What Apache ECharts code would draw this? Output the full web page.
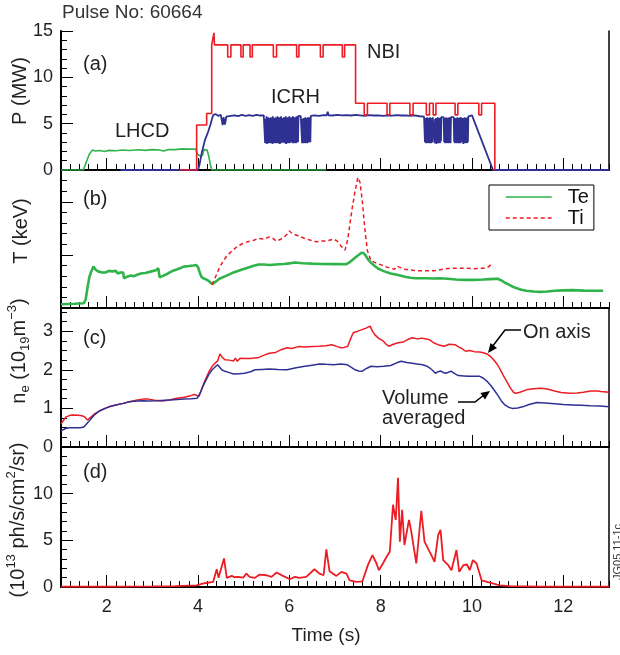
<!DOCTYPE html>
<html>
<head>
<meta charset="utf-8">
<script src="https://cdn.jsdelivr.net/npm/echarts@6/dist/echarts.min.js"></script>
<style>
html, body { margin: 0; padding: 0; background: #fff; }
#chart { width: 620px; height: 655px; }
</style>
</head>
<body>
<div id="chart"></div>
<script>
// Tick labels
const timeTicks = [2, 4, 6, 8, 10, 12];
const powerTicks = [0, 5, 10, 15];
const tempTicks = [0, 5, 10];
const densityTicks = [0, 1, 2, 3];
const emissionTicks = [0, 5, 10];

// (a) heating power P (MW) against time (s)
const lhcd = [[1.0,0],[1.49,0],[1.55,0.8],[1.62,1.7],[1.69,2.15],[1.75,2.05],[1.85,2.1],[1.95,2.0],[2.05,2.12],[2.2,2.08],[2.35,2.15],[2.5,2.1],[2.7,2.18],[2.85,2.12],[3.0,2.2],[3.15,2.15],[3.25,2.05],[3.35,2.22],[3.5,2.2],[3.65,2.28],[3.8,2.25],[3.95,2.27],[3.99,1.7],[4.05,1.5],[4.1,1.6],[4.13,2.2],[4.2,2.15],[4.23,1.6],[4.27,0.6],[4.3,0],[6.8,0]];

const icrh = [[2.3,0],[4.0,0],[4.03,0.5],[4.08,1.8],[4.15,3.2],[4.22,4.1],[4.27,4.85],[4.33,5.9],[4.38,6.05],[4.44,5.85],[4.5,5.95],[4.52,5.8],[4.54,4.85],[4.56,5.7],[4.59,4.9],[4.62,5.75],[4.66,5.95],[4.72,5.85],[4.8,5.9],[4.88,5.82],[4.96,5.95],[5.04,5.85],[5.12,5.92],[5.2,5.85],[5.28,5.95],[5.36,5.88],[5.44,5.9],
  [5.46,5.7],[5.47,2.9],[5.48,5.5],[5.49,3.0],[5.5,5.8],[5.51,2.8],[5.52,5.4],[5.53,3.1],[5.54,5.7],[5.55,2.9],[5.56,5.6],[5.57,3.0],[5.58,5.3],[5.59,2.9],[5.6,5.7],[5.61,3.2],[5.62,5.5],[5.63,2.8],[5.64,5.8],[5.65,3.0],[5.66,5.6],[5.67,2.9],[5.68,5.4],[5.69,3.1],[5.7,5.7],[5.71,2.9],[5.72,5.5],[5.73,3.0],[5.74,5.8],[5.75,2.9],[5.76,5.6],[5.77,3.1],[5.78,5.7],[5.79,2.8],[5.8,5.5],[5.81,3.0],[5.82,5.8],[5.83,2.9],[5.84,5.6],[5.85,3.0],[5.86,5.4],[5.87,3.1],[5.88,5.7],[5.89,2.9],[5.9,5.5],[5.91,3.0],[5.92,5.8],[5.93,2.8],[5.94,5.6],[5.95,3.0],[5.96,5.7],[5.97,2.9],[5.98,5.5],[5.99,3.1],[6.0,5.8],[6.01,2.9],[6.02,5.6],[6.03,3.0],[6.04,5.7],[6.05,3.2],[6.06,5.5],[6.07,2.9],[6.08,5.8],[6.09,3.0],[6.1,5.6],[6.11,2.9],[6.12,5.7],[6.13,3.1],[6.14,5.5],[6.15,2.9],[6.16,5.8],[6.17,3.0],[6.18,5.7],[6.19,3.0],[6.2,5.85],[6.25,5.8],
  [6.27,5.7],[6.28,2.9],[6.29,5.5],[6.3,3.0],[6.31,5.6],[6.32,2.9],[6.33,5.4],[6.34,3.1],[6.35,5.7],[6.36,2.9],[6.37,5.5],[6.38,3.0],[6.39,5.6],[6.4,2.9],[6.41,5.7],[6.42,3.1],[6.43,5.5],[6.44,3.0],[6.45,5.7],[6.46,3.0],[6.47,5.85],
  [6.55,5.9],[6.65,5.85],[6.75,5.92],[6.82,5.9],[6.84,6.3],[6.86,5.9],[6.95,5.88],[7.05,5.95],[7.15,5.9],[7.25,5.93],[7.35,5.88],[7.45,5.95],[7.55,5.9],[7.65,5.85],[7.75,5.92],[7.85,5.88],[7.95,5.9],[8.05,5.85],[8.15,5.9],[8.25,5.87],[8.35,5.93],[8.45,5.88],[8.55,5.9],[8.65,5.85],[8.75,5.9],[8.85,5.8],[8.95,5.75],
  [8.96,5.7],[8.97,3.0],[8.98,5.6],[8.99,2.9],[9.0,5.5],[9.01,3.1],[9.02,5.7],[9.03,2.9],[9.04,5.4],[9.05,3.0],[9.06,5.6],[9.07,2.9],[9.08,5.7],[9.09,3.1],[9.1,5.5],[9.11,2.9],[9.12,5.6],[9.13,3.0],[9.14,5.7],[9.16,5.65],
  [9.17,5.6],[9.18,2.9],[9.19,5.5],[9.2,3.0],[9.21,5.6],[9.22,2.8],[9.23,5.4],[9.24,3.1],[9.25,5.7],[9.26,2.9],[9.27,5.5],[9.28,3.0],[9.29,5.6],[9.3,2.9],[9.31,5.7],[9.32,3.1],[9.33,5.7],[9.36,5.7],
  [9.38,5.7],[9.39,3.0],[9.4,5.6],[9.41,2.9],[9.42,5.5],[9.43,3.0],[9.44,5.7],[9.45,2.9],[9.46,5.6],[9.47,3.1],[9.48,5.5],[9.49,2.9],[9.5,5.7],[9.51,3.0],[9.52,5.6],[9.53,2.9],[9.54,5.7],[9.57,5.7],
  [9.6,5.7],[9.61,3.0],[9.62,5.5],[9.63,2.9],[9.64,5.6],[9.65,3.1],[9.66,5.4],[9.67,2.9],[9.68,5.7],[9.69,3.0],[9.7,5.5],[9.71,2.9],[9.72,5.6],[9.73,3.1],[9.74,5.7],[9.75,2.9],[9.76,5.7],
  [9.78,5.7],[9.79,3.0],[9.8,5.6],[9.81,2.8],[9.82,5.5],[9.83,3.0],[9.84,5.7],[9.85,2.9],[9.86,5.5],[9.87,3.1],[9.88,5.6],[9.89,2.9],[9.9,5.7],[9.91,3.0],[9.92,5.8],
  [10.0,5.9],[10.46,0],[13.0,0]];

const nbi = [[3.6,0],[3.97,0],[3.97,4.85],[4.19,4.85],[4.19,6.1],[4.3,6.1],[4.3,13.5],[4.34,13.5],[4.35,14.8],[4.36,13.5],
  [4.65,13.5],[4.65,12.2],[4.72,12.2],[4.72,13.5],
  [4.94,13.5],[4.94,12.2],[4.99,12.2],[4.99,13.5],
  [5.14,13.5],[5.14,12.2],[5.19,12.2],[5.19,13.5],
  [5.65,13.5],[5.65,12.2],[5.72,12.2],[5.72,13.5],
  [6.16,13.5],[6.16,12.2],[6.21,12.2],[6.21,13.5],
  [6.68,13.5],[6.68,12.2],[6.74,12.2],[6.74,13.5],
  [7.16,13.5],[7.16,12.2],[7.21,12.2],[7.21,13.5],
  [7.45,13.5],[7.45,7.2],
  [7.64,7.2],[7.64,5.95],[7.71,5.95],[7.71,7.2],
  [8.14,7.2],[8.14,5.95],[8.2,5.95],[8.2,7.2],
  [8.64,7.2],[8.64,5.95],[8.71,5.95],[8.71,7.2],
  [9.0,7.2],[9.0,5.95],[9.07,5.95],[9.07,7.2],
  [9.15,7.2],[9.15,5.95],[9.21,5.95],[9.21,7.2],
  [9.63,7.2],[9.63,5.95],[9.69,5.95],[9.69,7.2],
  [10.15,7.2],[10.15,5.95],[10.21,5.95],[10.21,7.2],
  [10.5,7.2],[10.5,0]];

// (b) electron and ion temperature (keV)
const te = [[1.0,0.35],[1.3,0.4],[1.5,0.45],[1.54,0.8],[1.58,1.9],[1.62,2.9],[1.66,3.4],[1.71,3.9],[1.76,3.6],[1.81,3.45],[1.9,3.35],[1.97,3.35],[2.05,3.5],[2.13,3.45],[2.2,3.5],[2.24,3.25],[2.3,3.35],[2.36,3.35],[2.38,2.8],[2.45,2.95],[2.52,3.05],[2.6,3.0],[2.68,3.15],[2.75,3.25],[2.85,3.3],[2.98,3.45],[3.08,3.55],[3.13,3.75],[3.16,2.9],[3.22,3.0],[3.3,3.15],[3.38,3.35],[3.45,3.5],[3.55,3.65],[3.69,3.9],[3.8,3.95],[3.9,4.0],[3.96,4.05],[4.0,3.85],[4.02,3.6],[4.05,3.2],[4.08,2.9],[4.14,2.75],[4.2,2.65],[4.26,2.45],[4.31,2.25],[4.38,2.45],[4.47,2.75],[4.6,3.0],[4.78,3.35],[4.95,3.6],[5.09,3.8],[5.2,3.95],[5.33,4.1],[5.45,4.1],[5.56,4.05],[5.7,4.1],[5.88,4.15],[6.0,4.2],[6.11,4.28],[6.3,4.22],[6.5,4.18],[6.7,4.15],[6.97,4.13],[7.1,4.15],[7.24,4.12],[7.32,4.3],[7.4,4.6],[7.5,4.95],[7.58,5.2],[7.63,5.15],[7.67,4.95],[7.72,4.6],[7.79,4.25],[7.87,3.95],[7.95,3.7],[8.08,3.45],[8.22,3.25],[8.38,3.1],[8.53,2.95],[8.65,2.85],[8.77,2.8],[9.0,2.8],[9.16,2.78],[9.3,2.8],[9.47,2.75],[9.65,2.68],[9.86,2.65],[10.05,2.65],[10.25,2.68],[10.4,2.72],[10.56,2.75],[10.64,2.6],[10.72,2.4],[10.85,2.1],[10.95,1.9],[11.08,1.72],[11.19,1.63],[11.35,1.55],[11.5,1.52],[11.65,1.55],[11.81,1.62],[12.0,1.66],[12.2,1.68],[12.45,1.64],[12.67,1.63],[12.87,1.62]];

const ti = [[4.31,2.2],[4.38,2.9],[4.47,3.8],[4.55,4.4],[4.63,4.9],[4.75,5.4],[4.86,5.8],[4.97,6.05],[5.09,6.25],[5.2,6.35],[5.33,6.55],[5.45,6.5],[5.56,6.7],[5.64,6.55],[5.72,6.3],[5.8,6.45],[5.88,6.65],[5.95,6.95],[6.0,7.25],[6.07,7.0],[6.19,6.8],[6.34,6.55],[6.45,6.4],[6.58,6.25],[6.7,6.3],[6.81,6.3],[6.97,6.5],[7.05,6.3],[7.13,5.85],[7.22,5.45],[7.28,6.5],[7.32,7.7],[7.38,9.5],[7.44,11.0],[7.5,12.3],[7.55,11.8],[7.6,10.0],[7.63,8.5],[7.67,6.8],[7.71,5.4],[7.79,4.45],[7.87,4.3],[7.95,4.15],[8.05,4.0],[8.14,3.85],[8.22,3.75],[8.3,3.65],[8.36,3.95],[8.41,3.85],[8.53,3.65],[8.7,3.55],[8.84,3.5],[9.0,3.5],[9.16,3.5],[9.3,3.6],[9.47,3.72],[9.65,3.75],[9.86,3.75],[10.05,3.7],[10.25,3.75],[10.35,3.85],[10.42,4.1]];

// (c) electron density (10^19 m^-3)
const neAxis = [[1.0,0.6],[1.06,0.7],[1.11,0.78],[1.2,0.82],[1.27,0.83],[1.38,0.82],[1.46,0.81],[1.52,0.78],[1.58,0.7],[1.62,0.72],[1.66,0.78],[1.75,0.87],[1.89,0.96],[2.0,1.02],[2.13,1.07],[2.25,1.1],[2.36,1.13],[2.5,1.17],[2.67,1.22],[2.8,1.24],[2.91,1.24],[3.05,1.21],[3.22,1.19],[3.38,1.22],[3.53,1.26],[3.7,1.29],[3.84,1.33],[3.92,1.36],[3.96,1.39],[4.02,1.31],[4.08,1.5],[4.16,1.74],[4.24,1.95],[4.31,2.09],[4.38,2.18],[4.43,2.23],[4.48,2.41],[4.53,2.32],[4.59,2.26],[4.68,2.25],[4.78,2.23],[4.82,2.3],[4.86,2.22],[4.92,2.3],[5.02,2.29],[5.15,2.29],[5.33,2.32],[5.45,2.38],[5.56,2.43],[5.7,2.45],[5.82,2.52],[5.95,2.57],[6.05,2.55],[6.2,2.6],[6.34,2.59],[6.5,2.6],[6.66,2.61],[6.8,2.62],[6.93,2.65],[7.05,2.6],[7.13,2.57],[7.2,2.58],[7.28,2.61],[7.34,2.8],[7.4,2.96],[7.5,3.0],[7.59,3.04],[7.68,3.08],[7.77,3.13],[7.82,3.0],[7.87,2.91],[7.95,2.82],[8.06,2.74],[8.12,2.66],[8.18,2.61],[8.28,2.66],[8.38,2.7],[8.5,2.72],[8.6,2.79],[8.69,2.83],[8.8,2.8],[8.9,2.82],[9.0,2.8],[9.08,2.77],[9.16,2.7],[9.28,2.64],[9.39,2.61],[9.5,2.66],[9.63,2.65],[9.72,2.58],[9.78,2.55],[9.86,2.48],[9.95,2.5],[10.05,2.47],[10.17,2.46],[10.25,2.44],[10.33,2.41],[10.42,2.33],[10.5,2.22],[10.56,2.13],[10.64,1.96],[10.7,1.82],[10.76,1.7],[10.84,1.53],[10.9,1.43],[10.95,1.39],[11.05,1.42],[11.19,1.48],[11.35,1.51],[11.5,1.52],[11.65,1.5],[11.81,1.45],[11.95,1.41],[12.13,1.39],[12.3,1.4],[12.44,1.42],[12.6,1.45],[12.75,1.45],[12.82,1.44],[13.0,1.42]];

const neVolume = [[1.0,0.42],[1.1,0.48],[1.19,0.5],[1.3,0.5],[1.42,0.5],[1.5,0.52],[1.54,0.57],[1.62,0.68],[1.73,0.83],[1.85,0.94],[2.05,1.04],[2.2,1.09],[2.36,1.13],[2.5,1.17],[2.67,1.19],[2.8,1.2],[2.91,1.19],[3.1,1.2],[3.38,1.22],[3.55,1.23],[3.69,1.24],[3.85,1.25],[3.98,1.26],[4.05,1.4],[4.1,1.55],[4.16,1.7],[4.24,1.88],[4.31,2.0],[4.38,2.08],[4.43,2.13],[4.47,2.08],[4.52,2.0],[4.59,1.96],[4.7,1.92],[4.78,1.89],[4.9,1.9],[5.02,1.91],[5.15,1.95],[5.25,2.0],[5.4,2.01],[5.56,2.02],[5.75,2.01],[5.95,2.0],[6.15,2.05],[6.34,2.09],[6.5,2.12],[6.66,2.15],[6.8,2.14],[6.97,2.13],[7.13,2.15],[7.27,2.13],[7.36,2.06],[7.44,2.0],[7.52,1.97],[7.59,1.96],[7.7,2.04],[7.79,2.09],[7.92,2.08],[8.06,2.09],[8.22,2.11],[8.35,2.18],[8.45,2.22],[8.57,2.19],[8.69,2.17],[8.8,2.15],[8.92,2.13],[9.0,2.1],[9.08,2.04],[9.14,1.98],[9.2,1.91],[9.26,1.95],[9.31,1.97],[9.37,1.93],[9.43,1.91],[9.49,1.94],[9.55,1.96],[9.62,1.9],[9.7,1.85],[9.82,1.84],[9.94,1.83],[10.05,1.83],[10.17,1.83],[10.25,1.78],[10.33,1.7],[10.42,1.58],[10.5,1.45],[10.56,1.35],[10.64,1.2],[10.72,1.09],[10.8,1.03],[10.88,1.0],[11.0,1.01],[11.11,1.04],[11.25,1.1],[11.42,1.15],[11.6,1.14],[11.81,1.12],[12.0,1.1],[12.2,1.09],[12.4,1.08],[12.59,1.07],[12.8,1.06],[13.0,1.04]];

// (d) emission (10^13 ph/s/cm^2/sr)
const emission = [[1.0,0.05],[2.0,0.05],[3.0,0.06],[3.5,0.1],[3.97,0.18],[4.1,0.35],[4.18,0.43],[4.33,0.54],[4.41,1.9],[4.45,1.0],[4.48,0.9],[4.57,3.06],[4.63,0.97],[4.74,1.19],[4.8,1.05],[4.88,1.08],[4.99,1.0],[5.06,1.44],[5.13,1.08],[5.24,0.97],[5.35,1.33],[5.5,1.26],[5.61,1.08],[5.72,1.55],[5.86,1.19],[6.01,0.83],[6.12,1.08],[6.22,0.97],[6.37,1.08],[6.55,1.9],[6.66,1.44],[6.75,1.26],[6.81,4.03],[6.88,1.69],[7.03,1.19],[7.14,1.62],[7.25,1.44],[7.32,0.72],[7.47,0.54],[7.6,0.61],[7.72,2.34],[7.82,3.42],[7.91,2.52],[7.96,1.8],[8.05,2.52],[8.13,3.24],[8.2,3.78],[8.27,8.81],[8.33,7.19],[8.38,11.69],[8.42,4.86],[8.47,8.27],[8.52,4.5],[8.62,7.19],[8.67,5.94],[8.78,2.52],[8.89,8.17],[8.96,4.86],[9.11,3.42],[9.18,2.7],[9.26,5.58],[9.31,6.12],[9.37,2.88],[9.48,2.34],[9.55,1.8],[9.66,3.96],[9.72,1.62],[9.81,2.34],[9.89,2.41],[9.95,1.8],[10.02,2.88],[10.1,2.52],[10.21,0.72],[10.39,0.47],[10.61,0.18],[10.83,0.1],[11.5,0.05],[13.0,0.05]];

const FONT = '"Liberation Sans", Arial, Helvetica, sans-serif';
const INK = '#231f20';
const RED = '#ec1c24';
const BLUE = '#2e3192';
const GREEN = '#2fb34a';

// Four stacked panels sharing the time axis
const panels = [
  { top: 31,  height: 139, max: 15,  minor: 1,    ticks: powerTicks,    labels: true,  rightLine: true },
  { top: 170, height: 138, max: 13,  minor: 1,    ticks: tempTicks,     labels: false, rightLine: false },
  { top: 308, height: 139, max: 3.6, minor: 0.25, ticks: densityTicks,  labels: true,  rightLine: true },
  { top: 447, height: 140, max: 15,  minor: 1,    ticks: emissionTicks, labels: true,  rightLine: true }
];

const grid = panels.map(p => ({ left: 61, width: 548, top: p.top, height: p.height }));
const xAxis = [];
const yAxis = [];
const tickLine = { color: '#000', width: 1 };

panels.forEach((p, i) => {
  // minor ticks + axis line
  xAxis.push({
    gridIndex: i, type: 'value', position: 'bottom', min: 1, max: 13, interval: 0.2,
    axisLine: { show: true, onZero: false, lineStyle: { color: '#000', width: 2 } },
    axisTick: { show: true, inside: true, length: 6, lineStyle: tickLine },
    axisLabel: { show: false }, splitLine: { show: false }
  });
  // major ticks + labels
  xAxis.push({
    gridIndex: i, type: 'value', position: 'bottom', min: 1, max: 13,
    axisLine: { show: false },
    axisTick: { show: true, inside: true, length: 12, customValues: timeTicks, lineStyle: tickLine },
    axisLabel: { show: i === 3, customValues: timeTicks, fontSize: 18, color: INK, fontFamily: FONT, margin: 11 },
    splitLine: { show: false }
  });
  yAxis.push({
    gridIndex: i, type: 'value', position: 'left', min: 0, max: p.max, interval: p.minor,
    axisLine: { show: true, onZero: false, lineStyle: { color: '#000', width: 2 } },
    axisTick: { show: true, inside: true, length: 6, lineStyle: tickLine },
    axisLabel: { show: false }, splitLine: { show: false }
  });
  yAxis.push({
    gridIndex: i, type: 'value', position: 'left', min: 0, max: p.max,
    axisLine: { show: false },
    axisTick: { show: true, inside: true, length: 12, customValues: p.ticks, lineStyle: tickLine },
    axisLabel: { show: p.labels, customValues: p.ticks, fontSize: 18, color: INK, fontFamily: FONT, margin: 8 },
    splitLine: { show: false }
  });
});
// frame lines: top of panel (a), right side of (a), (c), (d)
xAxis.push({
  gridIndex: 0, type: 'value', position: 'top', min: 1, max: 13,
  axisLine: { show: true, lineStyle: { color: '#000', width: 1.5 } },
  axisTick: { show: false }, axisLabel: { show: false }, splitLine: { show: false }
});
panels.forEach((p, i) => {
  if (!p.rightLine) return;
  yAxis.push({
    gridIndex: i, type: 'value', position: 'right', min: 0, max: p.max,
    axisLine: { show: true, onZero: false, lineStyle: { color: '#000', width: 1.5 } },
    axisTick: { show: false }, axisLabel: { show: false }, splitLine: { show: false }
  });
});

function line(name, data, g, color, width, dash) {
  return {
    type: 'line', name, data, xAxisIndex: 2 * g, yAxisIndex: 2 * g,
    symbol: 'none', showSymbol: false, smooth: false, silent: true,
    lineStyle: { color, width, type: dash || 'solid', cap: 'butt', join: 'bevel' },
    itemStyle: { color }
  };
}

const series = [
  line('LHCD', lhcd, 0, GREEN, 1.6),
  line('ICRH', icrh, 0, BLUE, 1.8),
  line('NBI', nbi, 0, RED, 1.6),
  line('Te', te, 1, GREEN, 2.6),
  line('Ti', ti, 1, RED, 1.5, [4, 3]),
  line('On axis', neAxis, 2, RED, 1.5),
  line('Volume averaged', neVolume, 2, BLUE, 1.5),
  line('Emission', emission, 3, RED, 1.8)
];

function txt(x, y, text, size, extra) {
  return Object.assign({
    type: 'text', x, y, silent: true,
    style: Object.assign({
      text, fontSize: size, fontFamily: FONT, fill: INK,
      align: 'left', textAlign: 'left', verticalAlign: 'middle', textVerticalAlign: 'middle'
    }, extra && extra.style)
  }, extra && extra.el);
}

function vtxt(x, y, text, rich) {
  return {
    type: 'text', x, y, rotation: Math.PI / 2, silent: true,
    style: {
      text, fontSize: 20, fontFamily: FONT, fill: INK,
      align: 'center', textAlign: 'center', verticalAlign: 'middle', textVerticalAlign: 'middle',
      rich
    }
  };
}

const richSet = {
  m:   { fontSize: 20, fontFamily: FONT, fill: INK, lineHeight: 26, verticalAlign: 'middle' },
  sub: { fontSize: 13, fontFamily: FONT, fill: INK, lineHeight: 14, verticalAlign: 'bottom' },
  sup: { fontSize: 13, fontFamily: FONT, fill: INK, lineHeight: 14, verticalAlign: 'top' }
};

const graphic = [
  txt(62, 13, 'Pulse No: 60664', 19, { style: { fill: '#333' } }),
  txt(83, 64, '(a)', 20),
  txt(115, 131, 'LHCD', 20),
  txt(271, 97, 'ICRH', 20),
  txt(367, 52, 'NBI', 20),
  txt(83, 199, '(b)', 20),
  txt(83, 338, '(c)', 20),
  txt(83, 472, '(d)', 20),
  txt(523, 332, 'On axis', 20),
  txt(382, 398, 'Volume', 20),
  txt(382, 418, 'averaged', 20),
  txt(326, 636, 'Time (s)', 19, { style: { align: 'center', textAlign: 'center' } }),
  vtxt(20, 91, 'P (MW)'),
  vtxt(21, 231, 'T (keV)'),
  vtxt(19, 351, '{m|n}{sub|e}{m| (10}{sub|19}{m|m}{sup|−3}{m|)}', richSet),
  vtxt(18, 520, '{m|(10}{sup|13}{m| ph/s/cm}{sup|2}{m|/sr)}', richSet),
  {
    type: 'text', x: 618, y: 552, rotation: Math.PI / 2, silent: true,
    style: { text: 'JG05.11-1c', fontSize: 11, fontFamily: FONT, fill: '#333',
      align: 'center', textAlign: 'center', verticalAlign: 'middle', textVerticalAlign: 'middle' }
  },
  // pointer for the on-axis trace
  { type: 'polyline', silent: true, shape: { points: [[521, 330], [505, 330], [492, 347]] },
    style: { stroke: '#000', lineWidth: 1.5, fill: null } },
  { type: 'polygon', silent: true, shape: { points: [[488, 353], [497, 348], [490.5, 343]] },
    style: { fill: '#000' } },
  // pointer for the volume-averaged trace
  { type: 'polyline', silent: true, shape: { points: [[458, 402], [475, 402], [484, 395]] },
    style: { stroke: '#000', lineWidth: 1.5, fill: null } },
  { type: 'polygon', silent: true, shape: { points: [[490, 391], [485, 399.5], [480.4, 392.9]] },
    style: { fill: '#000' } }
];

const chart = echarts.init(document.getElementById('chart'), null, { renderer: 'canvas' });
chart.setOption({
  animation: false,
  backgroundColor: '#fff',
  grid, xAxis, yAxis, series, graphic,
  legend: {
    data: ['Te', 'Ti'], left: 489, top: 185, orient: 'vertical',
    itemWidth: 46, itemHeight: 14, itemGap: 1,
    padding: [2, 5, 2, 16],
    borderColor: '#000', borderWidth: 1, borderRadius: 0,
    selectedMode: false,
    itemStyle: { color: 'rgba(0,0,0,0)', borderWidth: 0, opacity: 0 },
    lineStyle: { width: 1.5 },
    textStyle: { fontSize: 20, color: '#111', fontFamily: FONT, lineHeight: 20, padding: [0, 0, 0, 11] }
  }
});
</script>
</body>
</html>
